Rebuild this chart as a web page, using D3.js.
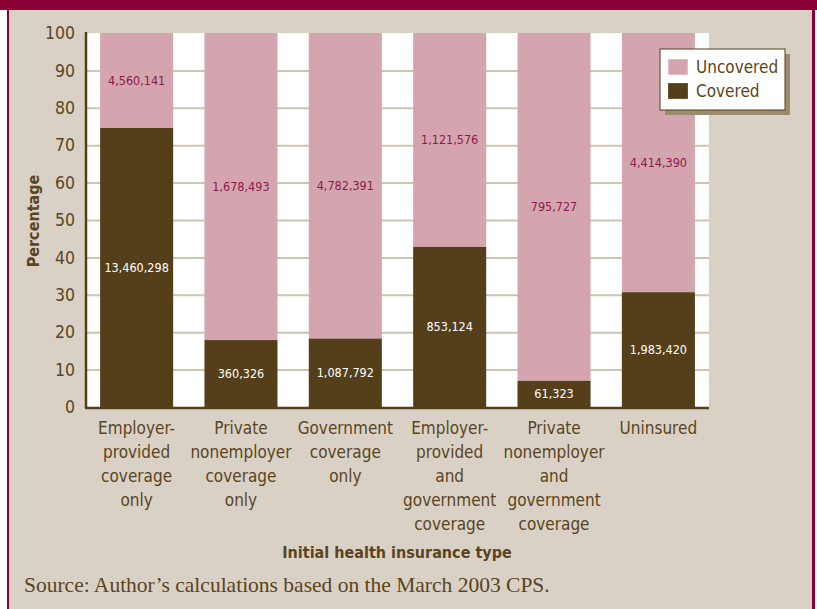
<!DOCTYPE html>
<html lang="en">
<head>
<meta charset="utf-8">
<title>Covered vs uncovered by initial health insurance type</title>
<style>
  html, body { margin: 0; padding: 0; background: #fff; }
  text { font-family: "DejaVu Sans Condensed", "Roboto", sans-serif; }
</style>
</head>
<body>
<div id="chart"></div>
<script src="https://cdn.jsdelivr.net/npm/d3@7"></script>
<script>
// chart values
var categories = [
  ["Employer-", "provided", "coverage", "only"],
  ["Private", "nonemployer", "coverage", "only"],
  ["Government", "coverage", "only"],
  ["Employer-", "provided", "and", "government", "coverage"],
  ["Private", "nonemployer", "and", "government", "coverage"],
  ["Uninsured"]
];
var coveredPct = [74.6, 17.9, 18.3, 42.8, 7.0, 30.7];
var coveredLabels = ["13,460,298", "360,326", "1,087,792", "853,124", "61,323", "1,983,420"];
var uncoveredLabels = ["4,560,141", "1,678,493", "4,782,391", "1,121,576", "795,727", "4,414,390"];
var yTicks = [0, 10, 20, 30, 40, 50, 60, 70, 80, 90, 100];

var W = 817, H = 609;
var maroon = "#8a0036", beige = "#d9d1c6", pink = "#d4a5ae", brown = "#553f1a", ink = "#5a4520";

var svg = d3.select("#chart").append("svg")
  .attr("width", W).attr("height", H);

// frame
svg.append("rect").attr("x", 0).attr("y", 0).attr("width", W).attr("height", H).attr("fill", "#fff");
svg.append("rect").attr("x", 8).attr("y", 0).attr("width", 805).attr("height", H).attr("fill", beige);
svg.append("rect").attr("x", 0).attr("y", 0).attr("width", W).attr("height", 10).attr("fill", maroon);
svg.append("rect").attr("x", 7).attr("y", 0).attr("width", 2).attr("height", H).attr("fill", maroon);
svg.append("rect").attr("x", 812).attr("y", 0).attr("width", 3).attr("height", H).attr("fill", maroon);

var x = d3.scaleBand()
  .domain(d3.range(categories.length))
  .range([86, 709])
  .paddingInner(0.3)
  .paddingOuter(0.135);

var y = d3.scaleLinear().domain([0, 100]).range([407, 33]);

// plot background
svg.append("rect")
  .attr("x", 86).attr("y", y(100))
  .attr("width", 709 - 86).attr("height", y(0) - y(100))
  .attr("fill", "#fff");

// gridlines
svg.append("g")
  .selectAll("line")
  .data(yTicks.filter(function (d) { return d > 0 && d < 100; }))
  .enter().append("line")
  .attr("x1", 86).attr("x2", 709)
  .attr("y1", function (d) { return y(d) + 0.5; })
  .attr("y2", function (d) { return y(d) + 0.5; })
  .attr("stroke", "#cfc3b2").attr("stroke-width", 2);

var idx = d3.range(categories.length);

// uncovered (top) segments
svg.append("g").selectAll("rect")
  .data(idx).enter().append("rect")
  .attr("x", function (i) { return x(i); })
  .attr("y", y(100))
  .attr("width", x.bandwidth())
  .attr("height", function (i) { return y(coveredPct[i]) - y(100); })
  .attr("fill", pink);

// covered (bottom) segments
svg.append("g").selectAll("rect")
  .data(idx).enter().append("rect")
  .attr("x", function (i) { return x(i); })
  .attr("y", function (i) { return y(coveredPct[i]); })
  .attr("width", x.bandwidth())
  .attr("height", function (i) { return y(0) - y(coveredPct[i]); })
  .attr("fill", brown);

// value labels
svg.append("g").selectAll("text")
  .data(idx).enter().append("text")
  .attr("x", function (i) { return x(i) + x.bandwidth() / 2; })
  .attr("y", function (i) { return (y(100) + y(coveredPct[i])) / 2; })
  .attr("dy", "0.35em")
  .attr("text-anchor", "middle")
  .attr("font-size", 12.5)
  .attr("fill", "#8a1a4c")
  .text(function (i) { return uncoveredLabels[i]; });

svg.append("g").selectAll("text")
  .data(idx).enter().append("text")
  .attr("x", function (i) { return x(i) + x.bandwidth() / 2; })
  .attr("y", function (i) { return (y(0) + y(coveredPct[i])) / 2; })
  .attr("dy", "0.35em")
  .attr("text-anchor", "middle")
  .attr("font-size", 12.5)
  .attr("fill", "#fff")
  .text(function (i) { return coveredLabels[i]; });

// y axis
var yAxis = svg.append("g")
  .attr("transform", "translate(86,0)")
  .call(d3.axisLeft(y).tickValues(yTicks).tickSize(0).tickPadding(11));
yAxis.select(".domain").remove();
yAxis.selectAll("text")
  .attr("font-size", 17.5)
  .attr("fill", ink)
  .style("font-family", "'DejaVu Sans Condensed', sans-serif");

svg.append("line")
  .attr("x1", 86).attr("x2", 86).attr("y1", 32).attr("y2", 408)
  .attr("stroke", brown).attr("stroke-width", 2.5);
svg.append("line")
  .attr("x1", 85).attr("x2", 709).attr("y1", 408).attr("y2", 408)
  .attr("stroke", brown).attr("stroke-width", 2.5);

// x category labels
var cat = svg.append("g").selectAll("text")
  .data(idx).enter().append("text")
  .attr("x", function (i) { return x(i) + x.bandwidth() / 2; })
  .attr("y", 434)
  .attr("text-anchor", "middle")
  .attr("font-size", 17)
  .attr("fill", ink);
cat.selectAll("tspan")
  .data(function (i) { return categories[i]; })
  .enter().append("tspan")
  .attr("x", function () { return this.parentNode.getAttribute("x"); })
  .attr("dy", function (d, j) { return j === 0 ? 0 : 24; })
  .text(function (d) { return d; });

// axis titles
svg.append("text")
  .attr("x", 397).attr("y", 558)
  .attr("text-anchor", "middle")
  .attr("font-size", 16)
  .attr("font-weight", "bold")
  .attr("fill", ink)
  .text("Initial health insurance type");

svg.append("text")
  .attr("transform", "translate(39,221) rotate(-90)")
  .attr("text-anchor", "middle")
  .attr("font-size", 16)
  .attr("font-weight", "bold")
  .attr("fill", ink)
  .text("Percentage");

// legend
var lg = svg.append("g").attr("transform", "translate(660,49)");
lg.append("rect").attr("x", 5).attr("y", 5).attr("width", 125).attr("height", 61).attr("fill", "#9c8c6e");
lg.append("rect").attr("x", 0).attr("y", 0).attr("width", 125).attr("height", 61)
  .attr("fill", "#fff").attr("stroke", brown).attr("stroke-width", 1);
var legendItems = [["Uncovered", pink], ["Covered", brown]];
legendItems.forEach(function (d, i) {
  lg.append("rect").attr("x", 8.5).attr("y", 10.5 + i * 24).attr("width", 19).attr("height", 15)
    .attr("fill", d[1]).attr("stroke", i === 0 ? "#e3c0c6" : "#6a5430");
  lg.append("text").attr("x", 36).attr("y", 18 + i * 24).attr("dy", "0.35em")
    .attr("font-size", 17).attr("fill", ink).text(d[0]);
});

// source
svg.append("text")
  .attr("x", 24).attr("y", 592)
  .attr("font-size", 21.5)
  .attr("fill", ink)
  .style("font-family", "'Liberation Serif', 'DejaVu Serif', serif")
  .text("Source: Author\u2019s calculations based on the March 2003 CPS.");
</script>
</body>
</html>
